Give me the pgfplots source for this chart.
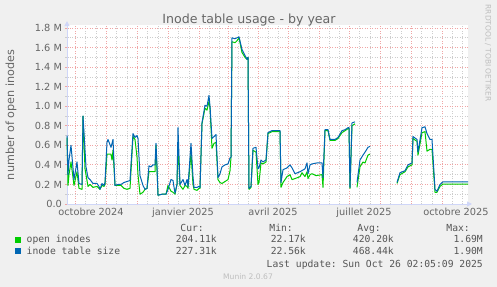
\documentclass[border=0pt]{standalone}
\usepackage{fontspec}
\setmainfont{DejaVu Sans}
\setmonofont{DejaVu Sans Mono}
\usepackage{pgfplots}
\pgfplotsset{compat=1.18}
\usepackage{pgfplotstable}
\usetikzlibrary{arrows.meta}
\definecolor{bgc}{HTML}{F0F0F0}
\definecolor{fontc}{HTML}{666666}
\definecolor{axisc}{HTML}{CFD6F8}
\definecolor{mgridc}{RGB}{240,165,165}
\definecolor{gridc}{RGB}{205,205,205}
\definecolor{greenc}{HTML}{00CC00}
\definecolor{bluec}{HTML}{0066B3}
\definecolor{wmc}{RGB}{190,190,190}
\definecolor{legc}{HTML}{555555}

\pgfplotstableread{
x y
67 0.70
68 0.30
69 0.45
71 0.60
74 0.25
77 0.43
79 0.21
82 0.20
83 0.90
86 0.38
88 0.27
90 0.25
93 0.21
97 0.21
99 0.18
100 0.15
102 0.21
104 0.19
105 0.22
107 0.63
108 0.66
111 0.58
113 0.66
115 0.19
118 0.20
121 0.20
124 0.22
127 0.23
130 0.24
133 0.72
135 0.68
137 0.70
138 0.67
140 0.29
143 0.19
145 0.15
147 0.16
149 0.39
151 0.38
153 0.40
155 0.40
156 0.62
157 0.38
158 0.09
162 0.10
166 0.10
168 0.15
171 0.25
173 0.24
175 0.11
177 0.20
178 0.78
180 0.20
183 0.25
185 0.19
187 0.25
188 0.18
191 0.62
193 0.28
194 0.17
197 0.17
199 0.18
200 0.17
202 0.83
205 1.01
207 1.00
209 1.11
210 1.00
212 0.67
214 0.69
216 0.71
218 0.27
220 0.31
222 0.38
225 0.40
228 0.41
230 0.47
231 0.48
232 1.70
235 1.69
237 1.70
239 1.71
242 1.58
245 1.52
247 1.48
248 1.50
249 0.16
251 0.18
253 0.57
256 0.58
258 0.36
259 0.37
261 0.45
263 0.43
266 0.45
268 0.73
272 0.75
279 0.75
280 0.75
281 0.22
283 0.35
287 0.37
290 0.40
292 0.37
295 0.31
300 0.33
305 0.36
307 0.42
308 0.31
310 0.40
312 0.41
317 0.42
322 0.42
323 0.27
325 0.76
328 0.76
330 0.66
335 0.66
338 0.68
342 0.75
345 0.76
348 0.78
349 0.78
350 0.17
352 0.83
355 0.84
356 nan
357 0.22
360 0.45
363 0.50
365 0.53
368 0.58
370 0.59
371 nan
397 0.22
400 0.32
405 0.34
408 0.40
412 0.42
413 0.69
417 0.66
418 0.53
422 0.78
425 0.79
427 0.72
430 0.66
432 0.66
435 0.15
437 0.13
440 0.20
443 0.227
468 0.227
}\bluedata

\pgfplotstableread{
x y
67 0.68
68 0.19
69 0.30
71 0.43
74 0.19
77 0.33
79 0.16
82 0.15
83 0.90
85 0.36
88 0.18
90 0.20
93 0.17
97 0.18
99 0.16
100 0.15
102 0.19
104 0.18
105 0.20
107 0.51
108 0.51
111 0.51
112 0.45
113 0.55
115 0.19
118 0.19
121 0.19
124 0.16
127 0.15
130 0.16
133 0.69
135 0.66
137 0.48
138 0.30
140 0.10
143 0.12
145 0.15
147 0.16
149 0.33
151 0.33
153 0.33
155 0.33
156 0.60
157 0.35
158 0.09
162 0.10
166 0.10
168 0.19
171 0.13
173 0.12
175 0.10
177 0.20
178 0.60
180 0.19
183 0.15
185 0.19
187 0.18
188 0.16
191 0.52
193 0.20
194 0.15
197 0.14
199 0.16
200 0.16
202 0.82
205 0.98
207 0.96
209 1.05
210 0.98
212 0.57
214 0.62
216 0.63
218 0.25
220 0.22
222 0.21
225 0.23
228 0.25
230 0.34
231 0.48
232 1.66
235 1.65
237 1.67
239 1.70
242 1.55
245 1.50
247 1.48
248 1.50
249 0.15
251 0.17
253 0.55
256 0.53
258 0.20
259 0.22
261 0.42
263 0.41
266 0.43
268 0.72
272 0.74
279 0.74
280 0.74
281 0.17
283 0.22
287 0.28
290 0.30
292 0.25
295 0.26
300 0.28
302 0.32
305 0.28
307 0.33
308 0.26
310 0.30
312 0.31
316 0.29
322 0.30
323 0.17
325 0.75
328 0.75
330 0.65
335 0.65
338 0.67
342 0.73
345 0.75
348 0.77
349 0.77
350 0.16
352 0.80
355 0.82
356 nan
357 0.17
360 0.38
363 0.43
365 0.42
368 0.50
370 0.51
371 nan
397 0.21
400 0.30
405 0.33
408 0.38
412 0.40
413 0.67
417 0.64
418 0.50
422 0.73
425 0.74
427 0.54
430 0.56
432 0.56
435 0.12
437 0.12
440 0.18
443 0.204
468 0.204
}\greendata

\newcommand{\axf}{\fontsize{9.8bp}{11bp}\selectfont}
\newcommand{\legf}{\fontsize{9.7bp}{11bp}\selectfont\ttfamily}

\begin{document}
\begin{tikzpicture}
\fill[bgc] (0bp,0bp) rectangle (497bp,287bp);
\useasboundingbox (0bp,0bp) rectangle (497bp,287bp);
\begin{axis}[
  at={(67bp,83bp)}, anchor=south west,
  scale only axis, width=401bp, height=178.9bp,
  xmin=67, xmax=468, ymin=0, ymax=1.83,
  axis background/.style={fill=white},
  axis x line=bottom, axis y line=left,
  axis line style={draw=axisc, line width=1bp},
  x axis line style={-{Triangle[length=5bp,width=5bp]}, shorten >=-4bp},
  y axis line style={-{Triangle[length=5bp,width=5bp]}, shorten >=-4bp},
  /pgf/number format/assume math mode=true,
  xtick={75,106,137,168,199,228,258,288,319,349,380,411,442},
  xticklabels={},
  minor xtick={85,96,116,127,147,158,178,189,209,219,238,248,268,278,298,309,329,339,359,370,390,401,421,432,452,462},
  extra x ticks={91,183,273,364,456},
  extra x tick labels={octobre 2024,janvier 2025,avril 2025,juillet 2025,octobre 2025},
  extra x tick style={grid=none, major tick length=0pt, tick label style={font=\axf, text=fontc, yshift=-1bp}},
  ytick={0,0.2,0.4,0.6,0.8,1.0,1.2,1.4,1.6,1.8},
  yticklabels={0.0,0.2 M,0.4 M,0.6 M,0.8 M,1.0 M,1.2 M,1.4 M,1.6 M,1.8 M},
  minor ytick={0.1,0.3,0.5,0.7,0.9,1.1,1.3,1.5,1.7},
  yticklabel style={font=\axf, text=fontc},
  grid=both,
  major grid style={draw=mgridc, line width=0.8bp, dash pattern=on 1bp off 1.5bp},
  minor grid style={draw=gridc, line width=0.8bp, dash pattern=on 1bp off 1.5bp},
  tick align=center,
  major tick length=3bp, minor tick length=3bp,
  major tick style={draw=mgridc, line width=0.8bp},
  minor tick style={draw=gridc, line width=0.8bp},
  unbounded coords=jump,
  clip=false,
]
\addplot[greenc, line width=1bp, line join=round] table[x=x,y=y] {\greendata};
\addplot[bluec, line width=1bp, line join=round] table[x=x,y=y] {\bluedata};
\end{axis}

\node[anchor=base, font=\fontsize{12.6bp}{14bp}\selectfont, text=fontc] at (249bp,263bp) {Inode table usage - by year};
\node[rotate=90, font=\fontsize{11.2bp}{13bp}\selectfont, text=fontc] at (11bp,172bp) {number of open inodes};
\node[rotate=-90, font=\fontsize{7.5bp}{9bp}\selectfont, text=wmc] at (488bp,234bp) {RRDTOOL / TOBI OETIKER};

% legend
\node[anchor=base east, font=\legf, text=legc, inner sep=0pt] at (204bp,55bp) {Cur:};
\node[anchor=base east, font=\legf, text=legc, inner sep=0pt] at (293bp,55bp) {Min:};
\node[anchor=base east, font=\legf, text=legc, inner sep=0pt] at (381bp,55bp) {Avg:};
\node[anchor=base east, font=\legf, text=legc, inner sep=0pt] at (470bp,55bp) {Max:};

\fill[greenc] (15bp,44bp) rectangle (21bp,50bp);
\node[anchor=base west, font=\legf, text=legc, inner sep=0pt] at (26.5bp,44bp) {open inodes};
\node[anchor=base east, font=\legf, text=legc, inner sep=0pt] at (217bp,44bp) {204.11k};
\node[anchor=base east, font=\legf, text=legc, inner sep=0pt] at (306bp,44bp) {22.17k};
\node[anchor=base east, font=\legf, text=legc, inner sep=0pt] at (394bp,44bp) {420.20k};
\node[anchor=base east, font=\legf, text=legc, inner sep=0pt] at (483bp,44bp) {1.69M};

\fill[bluec] (15bp,33bp) rectangle (21bp,39bp);
\node[anchor=base west, font=\legf, text=legc, inner sep=0pt] at (26.5bp,33bp) {inode table size};
\node[anchor=base east, font=\legf, text=legc, inner sep=0pt] at (217bp,33bp) {227.31k};
\node[anchor=base east, font=\legf, text=legc, inner sep=0pt] at (306bp,33bp) {22.56k};
\node[anchor=base east, font=\legf, text=legc, inner sep=0pt] at (394bp,33bp) {468.44k};
\node[anchor=base east, font=\legf, text=legc, inner sep=0pt] at (483bp,33bp) {1.90M};

\node[anchor=base east, font=\legf, text=legc, inner sep=0pt] at (483bp,20bp) {Last update: Sun Oct 26 02:05:09 2025};
\node[anchor=base, font=\fontsize{7.6bp}{9bp}\selectfont, text=wmc, inner sep=0pt] at (248bp,8bp) {Munin 2.0.67};
\end{tikzpicture}
\end{document}
